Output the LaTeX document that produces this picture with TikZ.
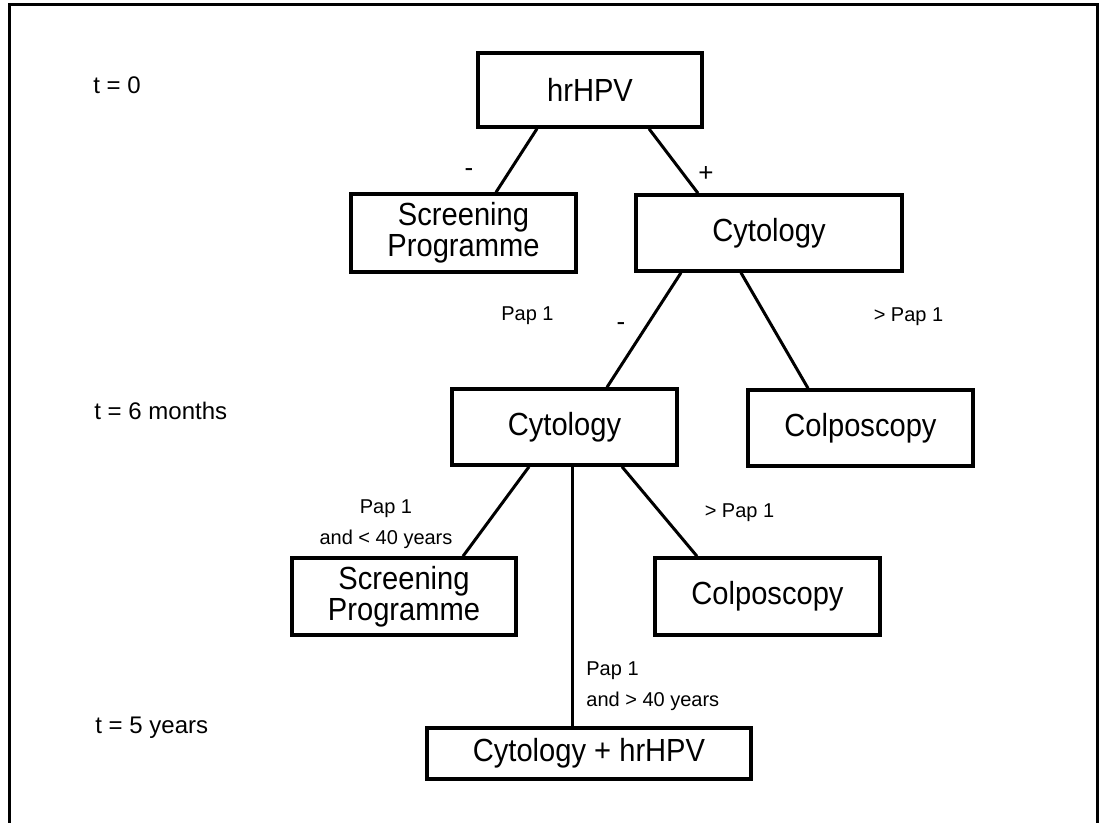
\documentclass[tikz,border=0pt]{standalone}
\usepackage{fontspec}
\setmainfont{Liberation Sans}
\newfontfamily\boxfont{Liberation Sans}[FakeStretch=0.91]
\usetikzlibrary{calc}
\begin{document}
\begin{tikzpicture}[x=0.5pt,y=-0.5pt,
  box/.style={draw,line width=1.75pt,inner sep=0pt,align=center,
    font=\boxfont\fontsize{16}{15.5}\selectfont},
  conn/.style={line width=1.5pt},
  small/.style={inner sep=0pt,align=center,font=\fontsize{10}{15.5}\selectfont},
  tlab/.style={inner sep=0pt,anchor=west,font=\fontsize{12}{14}\selectfont},
  sign/.style={inner sep=0pt,font=\fontsize{13}{14}\selectfont}]
\useasboundingbox (0,0) rectangle (1104,823);
% frame
\draw[line width=1.5pt] (9,823) -- (9,5) -- (1097,5) -- (1097,823);
% boxes
\node[box,minimum width=112pt,minimum height=37pt] (hr) at (590,90) {hrHPV};
\node[box,minimum width=112.5pt,minimum height=39pt] (s1) at (463.5,233) {Screening\\Programme};
\node[box,minimum width=133pt,minimum height=38pt] (c1) at (769,233) {Cytology};
\node[box,minimum width=112.5pt,minimum height=38pt] (c2) at (564.5,427) {Cytology};
\node[box,minimum width=112.5pt,minimum height=38pt] (col1) at (860.5,428) {Colposcopy};
\node[box,minimum width=112pt,minimum height=38.5pt] (s2) at (404,596.5) {Screening\\Programme};
\node[box,minimum width=112.5pt,minimum height=38.5pt] (col2) at (767.5,596.5) {Colposcopy};
\node[box,minimum width=162pt,minimum height=25.5pt] (ch) at (589,753.5) {Cytology + hrHPV};
% connectors
\draw[conn] ($(hr.south)+(-53,0)$) -- ($(s1.north)+(32.5,0)$);
\draw[conn] ($(hr.south)+(59,0)$) -- ($(c1.north)+(-71,0)$);
\draw[conn] ($(c1.south)+(-88,0)$) -- ($(c2.north)+(42.5,0)$);
\draw[conn] ($(c1.south)+(-28,0)$) -- ($(col1.north)+(-52.5,0)$);
\draw[conn] ($(c2.south)+(-35.5,0)$) -- ($(s2.north)+(59,0)$);
\draw[conn] ($(c2.south)+(57.5,0)$) -- ($(col2.north)+(-70.5,0)$);
\draw[conn] ($(c2.south)+(7.5,0)$) -- ($(ch.north)+(-17,0)$);
% labels
\node[sign] (m1) at (469,173) {-};
\node[sign] (p1) at (706,174) {+};
\node[small] (l1) at (527.5,316) {Pap 1};
\node[sign] (m2) at (621,327) {-};
\node[small] (l2) at (908.5,317) {> Pap 1};
\node[small] (l3) at (386,524.5) {Pap 1\\and < 40 years};
\node[small] (l4) at (739.5,513) {> Pap 1};
\node[small,align=left,anchor=west] (l5) at (586,686.5) {Pap 1\\and > 40 years};
\node[tlab] (t0) at (93,85) {t = 0};
\node[tlab] (t1) at (94,411) {t = 6 months};
\node[tlab] (t2) at (95,728) {t = 5 years};
\end{tikzpicture}
\end{document}
